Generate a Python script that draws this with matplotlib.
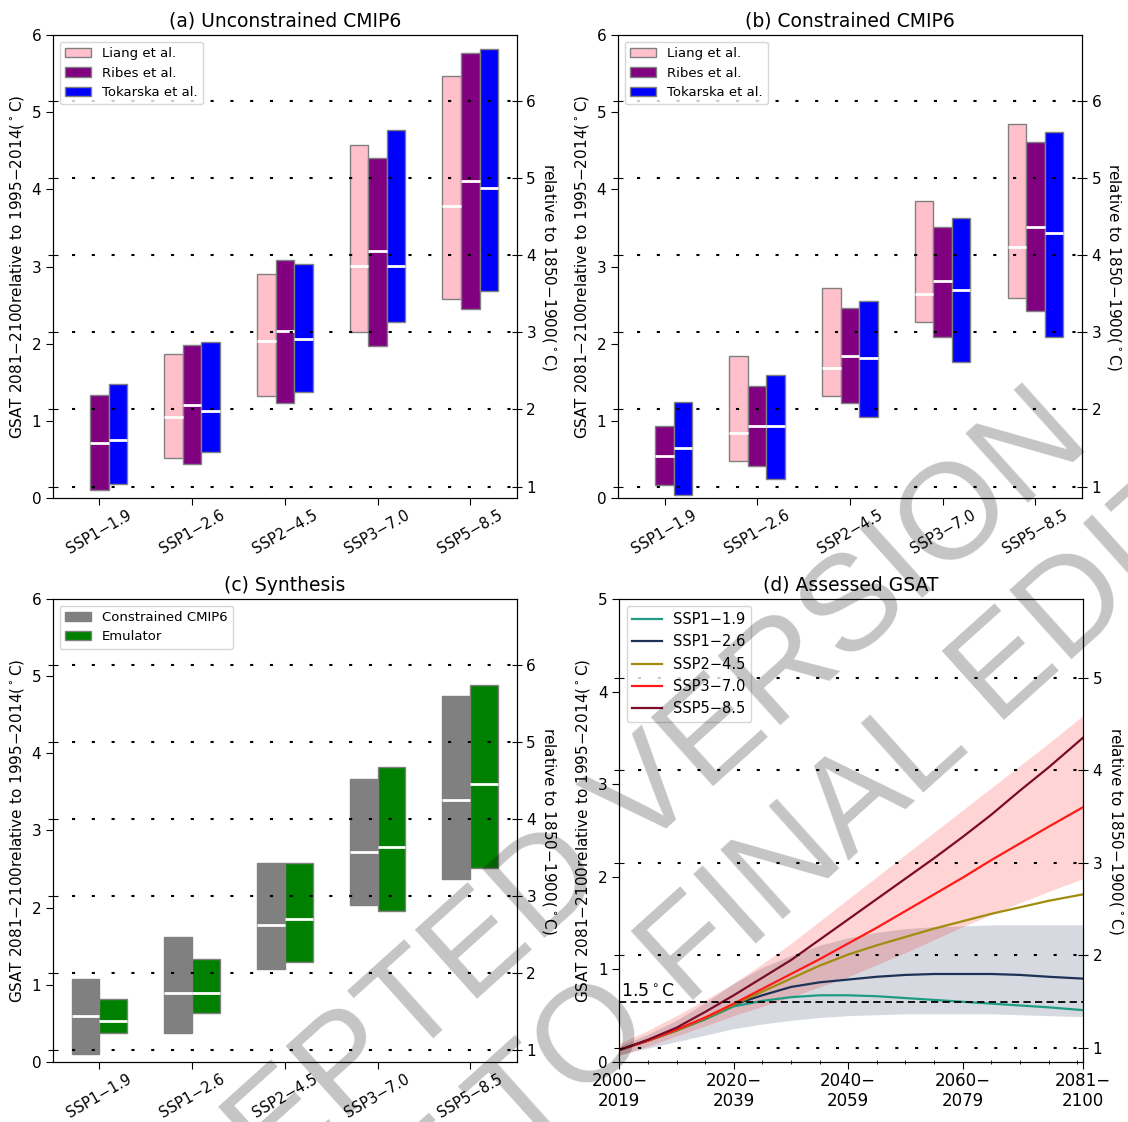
import numpy as np
import matplotlib.pyplot as plt
from matplotlib.ticker import MultipleLocator

plt.rcParams['font.family'] = 'DejaVu Sans'
plt.rcParams['font.size'] = 11

scenarios = ['SSP1−1.9', 'SSP1−2.6', 'SSP2−4.5', 'SSP3−7.0', 'SSP5−8.5']
nan = np.nan
pi_offset = 0.85  # 1995-2014 relative to 1850-1900

# (a) unconstrained CMIP6, 2081-2100 (low, median, high)
a_liang_lo = [nan, 0.52, 1.33, 2.15, 2.58]
a_liang_med = [nan, 1.05, 2.04, 3.01, 3.78]
a_liang_hi = [nan, 1.87, 2.91, 4.57, 5.47]
a_ribes_lo = [0.11, 0.44, 1.23, 1.97, 2.45]
a_ribes_med = [0.72, 1.21, 2.16, 3.20, 4.11]
a_ribes_hi = [1.34, 1.99, 3.08, 4.41, 5.77]
a_tok_lo = [0.19, 0.60, 1.38, 2.28, 2.69]
a_tok_med = [0.76, 1.13, 2.06, 3.01, 4.02]
a_tok_hi = [1.48, 2.02, 3.03, 4.77, 5.82]

# (b) constrained CMIP6
b_liang_lo = [nan, 0.48, 1.33, 2.28, 2.60]
b_liang_med = [nan, 0.85, 1.69, 2.65, 3.26]
b_liang_hi = [nan, 1.84, 2.72, 3.85, 4.85]
b_ribes_lo = [0.17, 0.42, 1.23, 2.09, 2.43]
b_ribes_med = [0.55, 0.94, 1.84, 2.81, 3.52]
b_ribes_hi = [0.93, 1.45, 2.47, 3.52, 4.61]
b_tok_lo = [0.04, 0.25, 1.05, 1.76, 2.09]
b_tok_med = [0.65, 0.93, 1.81, 2.70, 3.44]
b_tok_hi = [1.24, 1.60, 2.56, 3.63, 4.75]

# (c) synthesis
c_cmip_lo = [0.10, 0.38, 1.20, 2.04, 2.37]
c_cmip_med = [0.60, 0.90, 1.78, 2.72, 3.40]
c_cmip_hi = [1.08, 1.62, 2.58, 3.67, 4.74]
c_emu_lo = [0.38, 0.63, 1.29, 1.96, 2.51]
c_emu_med = [0.53, 0.90, 1.85, 2.79, 3.60]
c_emu_hi = [0.82, 1.33, 2.58, 3.82, 4.89]

# (d) assessed GSAT, 20-year means starting in each year
years = [2000, 2005, 2010, 2015, 2020, 2025, 2030, 2035, 2040,
         2045, 2050, 2055, 2060, 2065, 2070, 2075, 2081]
ssp119 = [0.13, 0.23, 0.34, 0.46, 0.60, 0.66, 0.70, 0.72, 0.72,
          0.71, 0.69, 0.67, 0.65, 0.63, 0.61, 0.59, 0.56]
ssp126 = [0.13, 0.23, 0.34, 0.47, 0.62, 0.72, 0.81, 0.86, 0.89,
          0.92, 0.94, 0.95, 0.95, 0.95, 0.94, 0.92, 0.90]
ssp245 = [0.13, 0.23, 0.34, 0.47, 0.62, 0.76, 0.90, 1.04, 1.16,
          1.26, 1.35, 1.44, 1.52, 1.60, 1.67, 1.74, 1.81]
ssp370 = [0.13, 0.23, 0.35, 0.48, 0.63, 0.79, 0.95, 1.11, 1.28,
          1.45, 1.63, 1.81, 1.99, 2.18, 2.36, 2.54, 2.75]
ssp585 = [0.13, 0.24, 0.37, 0.54, 0.72, 0.91, 1.10, 1.32, 1.54,
          1.76, 1.98, 2.20, 2.43, 2.67, 2.93, 3.18, 3.50]
ssp370_lo = [0.07, 0.17, 0.28, 0.39, 0.50, 0.60, 0.70, 0.81, 0.92,
             1.05, 1.18, 1.32, 1.46, 1.59, 1.72, 1.84, 1.98]
ssp370_hi = [0.20, 0.34, 0.50, 0.67, 0.85, 1.06, 1.28, 1.52, 1.76,
             2.00, 2.24, 2.48, 2.72, 2.96, 3.20, 3.44, 3.74]
ssp126_lo = [0.08, 0.15, 0.22, 0.29, 0.36, 0.41, 0.45, 0.48, 0.50,
             0.51, 0.52, 0.52, 0.52, 0.52, 0.51, 0.50, 0.49]
ssp126_hi = [0.17, 0.30, 0.45, 0.64, 0.85, 1.02, 1.15, 1.26, 1.34,
             1.40, 1.44, 1.46, 1.47, 1.48, 1.48, 1.48, 1.48]
year_ticks = [2000, 2020, 2040, 2060, 2081]
year_labels = ['2000−\n2019', '2020−\n2039', '2040−\n2059', '2060−\n2079', '2081−\n2100']
limit_15 = 1.5  # relative to 1850-1900

ylab = 'GSAT 2081−2100relative to 1995−2014($^\\circ$C)'
ylab_pi = 'relative to 1850−1900($^\\circ$C)'
dots = (0, (1.5, 8))


def range_bars(ax, lo, med, hi, offset, width, color, label):
    x = np.arange(len(scenarios)) + offset
    lo, med, hi = np.asarray(lo), np.asarray(med), np.asarray(hi)
    ax.bar(x, hi - lo, width, bottom=lo, color=color, edgecolor='grey',
           linewidth=1, label=label, zorder=2)
    ax.hlines(med, x - width / 2, x + width / 2, colors='white', linewidth=2, zorder=3)


def right_axis(ax, ytop, legend_size):
    ax.set_ylim(0, ytop)
    ax.set_ylabel(ylab, fontsize=11)
    ax.tick_params(axis='y', length=5)
    ax2 = ax.twinx()
    ax2.set_ylim(pi_offset, ytop + pi_offset)
    ax2.set_yticks(np.arange(1, ytop + 1))
    ax2.tick_params(axis='y', direction='inout', length=7, left=True)
    ax2.set_ylabel(ylab_pi, rotation=270, labelpad=16, fontsize=11)
    for v in np.arange(1, ytop + 1):
        ax2.axhline(v, xmin=0.04, color='black', linewidth=1.5, linestyle=dots)
    handles, labels = ax.get_legend_handles_labels()
    ax2.legend(handles, labels, loc='upper left', fontsize=legend_size)
    return ax2


def scenario_axis(ax, title):
    ax.set_xlim(-0.5, len(scenarios) - 0.5)
    ax.set_xticks(np.arange(len(scenarios)))
    ax.set_xticklabels(scenarios, rotation=30, ha='center', fontsize=10.5)
    ax.tick_params(axis='x', length=5, pad=2)
    ax.set_title(title, fontsize=13.5)


fig = plt.figure(figsize=(11.28, 11.22), dpi=100)
w, h = 0.411, 0.4127
ax_a = fig.add_axes([0.047, 0.556, w, h])
ax_b = fig.add_axes([0.548, 0.556, w, h])
ax_c = fig.add_axes([0.047, 0.0535, w, h])
ax_d = fig.add_axes([0.549, 0.0535, w, h])

# (a) and (b): three constraint studies side by side
for ax, data, title in [
    (ax_a, (a_liang_lo, a_liang_med, a_liang_hi, a_ribes_lo, a_ribes_med, a_ribes_hi,
            a_tok_lo, a_tok_med, a_tok_hi), '(a) Unconstrained CMIP6'),
    (ax_b, (b_liang_lo, b_liang_med, b_liang_hi, b_ribes_lo, b_ribes_med, b_ribes_hi,
            b_tok_lo, b_tok_med, b_tok_hi), '(b) Constrained CMIP6'),
]:
    range_bars(ax, *data[0:3], -0.2, 0.2, 'pink', 'Liang et al.')
    range_bars(ax, *data[3:6], 0.0, 0.2, 'purple', 'Ribes et al.')
    range_bars(ax, *data[6:9], 0.2, 0.2, 'blue', 'Tokarska et al.')
    scenario_axis(ax, title)
    right_axis(ax, 6, 9.5)

# (c) synthesis
range_bars(ax_c, c_cmip_lo, c_cmip_med, c_cmip_hi, -0.15, 0.3, 'grey', 'Constrained CMIP6')
range_bars(ax_c, c_emu_lo, c_emu_med, c_emu_hi, 0.15, 0.3, 'green', 'Emulator')
scenario_axis(ax_c, '(c) Synthesis')
right_axis(ax_c, 6, 9.5)

# (d) assessed GSAT time series
ax_d.fill_between(years, ssp126_lo, ssp126_hi, color='#1f3358', alpha=0.18, linewidth=0)
ax_d.fill_between(years, ssp370_lo, ssp370_hi, color='red', alpha=0.17, linewidth=0)
ax_d.plot(years, ssp119, color='#1e9c84', lw=1.6, label='SSP1−1.9')
ax_d.plot(years, ssp126, color='#1d3157', lw=1.6, label='SSP1−2.6')
ax_d.plot(years, ssp245, color='#a08c0e', lw=1.6, label='SSP2−4.5')
ax_d.plot(years, ssp370, color='#ff1a1a', lw=1.6, label='SSP3−7.0')
ax_d.plot(years, ssp585, color='#7a0c26', lw=1.6, label='SSP5−8.5')
ax_d.axhline(limit_15 - pi_offset, color='black', lw=1.3, linestyle=(0, (4, 2.4)))
ax_d.text(years[0] + 0.3, limit_15 - pi_offset + 0.02, '1.5$^\\circ$C', fontsize=12.5,
          va='bottom', ha='left')
ax_d.set_xlim(years[0], years[-1])
ax_d.set_xticks(year_ticks)
ax_d.set_xticklabels(year_labels, fontsize=12)
ax_d.xaxis.set_minor_locator(MultipleLocator(5))
ax_d.tick_params(axis='x', which='major', length=5, pad=2)
ax_d.tick_params(axis='x', which='minor', length=3, direction='inout')
ax_d.set_title('(d) Assessed GSAT', fontsize=13.5)
right_axis(ax_d, 5, 10.5)

# draft stamp across the page
stamp = dict(fontsize=98, color='black', alpha=0.23, ha='center', va='center',
             rotation=42, rotation_mode='anchor', family='Liberation Sans')
fig.text(0.490, 0.212, 'ACCEPTED VERSION', **stamp)
fig.text(0.568, 0.108, 'SUBJECT TO FINAL EDITS', **stamp)

fig.savefig('out.png', dpi=100)
